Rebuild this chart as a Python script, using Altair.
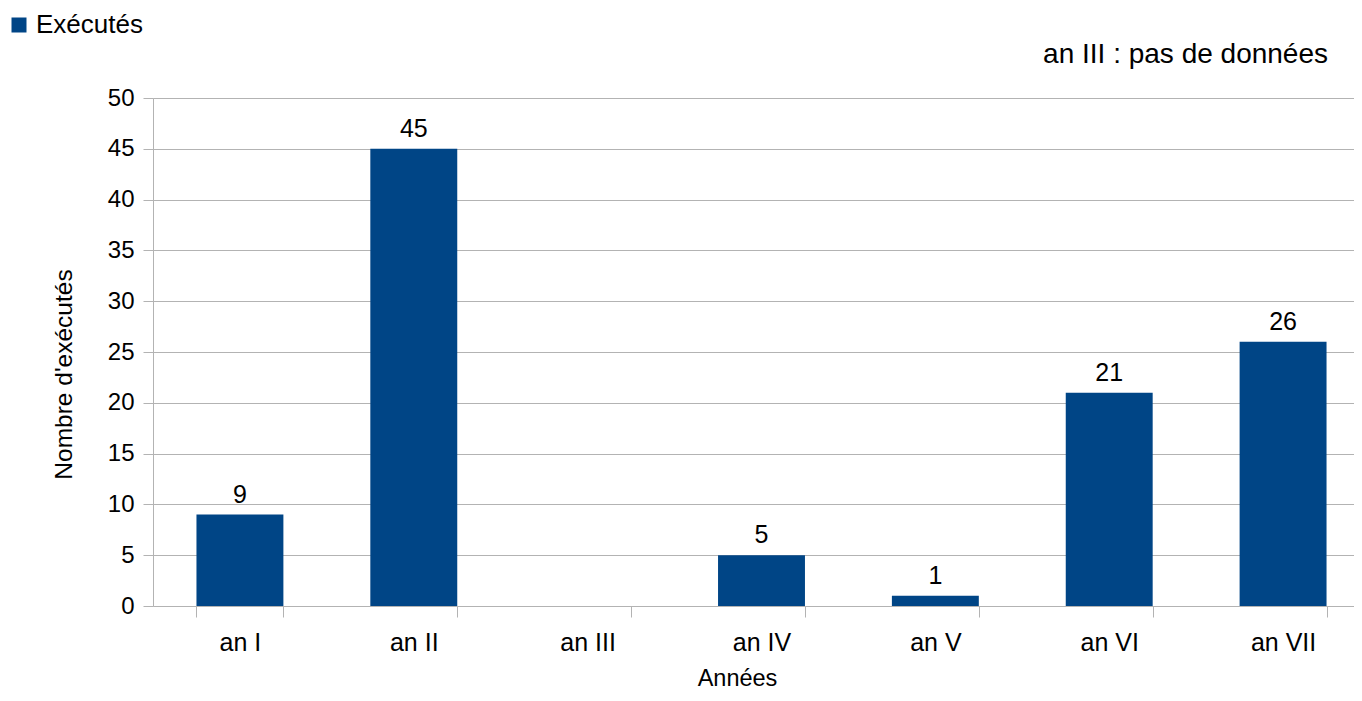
import altair as alt
import pandas as pd

annees = ["an I", "an II", "an III", "an IV", "an V", "an VI", "an VII"]
executes = [9, 45, None, 5, 1, 21, 26]
serie = ["Exécutés"] * len(annees)
note = ["an III : pas de données"]

df = pd.DataFrame({"Années": annees, "Exécutés": executes, "Série": serie})
df_note = pd.DataFrame({"note": note})

FONT = "Liberation Sans"
BLUE = "#004586"
GRID = "#b3b3b3"

x = alt.X(
    "Années:N",
    sort=annees,
    scale=alt.Scale(paddingInner=0.5, paddingOuter=0.25),
    axis=alt.Axis(
        title="Années",
        labelAngle=0,
        labelFontSize=25,
        labelFont=FONT,
        labelColor="black",
        labelPadding=13,
        titleFontSize=23.5,
        titleFont=FONT,
        titleFontWeight="normal",
        titleColor="black",
        titleAlign="center",
        titleBaseline="alphabetic",
        titleX=584,
        titleY=79,
        tickBand="extent",
        tickSize=11,
        tickColor=GRID,
        domain=False,
        grid=False,
    ),
)

y = alt.Y(
    "Exécutés:Q",
    scale=alt.Scale(domain=[0, 50]),
    axis=alt.Axis(
        title="Nombre d'exécutés",
        values=list(range(0, 51, 5)),
        labelFontSize=24,
        labelFont=FONT,
        labelColor="black",
        labelPadding=9,
        titleFontSize=24.5,
        titleFont=FONT,
        titleFontWeight="normal",
        titleColor="black",
        titleAlign="center",
        titleY=276,
        titlePadding=31,
        tickSize=10,
        tickColor=GRID,
        domainColor=GRID,
        gridColor=GRID,
        grid=True,
    ),
)

bars = alt.Chart(df).mark_bar(color=BLUE).encode(
    x=x,
    y=y,
    color=alt.Color(
        "Série:N",
        scale=alt.Scale(range=[BLUE]),
        legend=alt.Legend(
            title=None,
            orient="none",
            legendX=-147,
            legendY=-86,
            symbolType="square",
            symbolSize=225,
            symbolStrokeWidth=0,
            labelFontSize=26,
            labelFont=FONT,
            labelColor="black",
            labelOffset=4,
            padding=0,
        ),
    ),
)

labels = alt.Chart(df).transform_filter(
    "isValid(datum['Exécutés'])"
).mark_text(
    fontSize=25, font=FONT, color="black", baseline="alphabetic", dy=-12
).encode(
    x=alt.X("Années:N", sort=annees),
    y=alt.Y("Exécutés:Q"),
    text=alt.Text("Exécutés:Q"),
)

annotation = alt.Chart(df_note).mark_text(
    fontSize=28, font=FONT, color="black", align="right", baseline="alphabetic"
).encode(
    x=alt.value(1175),
    y=alt.value(-35),
    text="note:N",
)

chart = (
    alt.layer(bars, labels, annotation)
    .properties(
        width=1217,
        height=508,
        autosize=alt.AutoSizeParams(type="none"),
        padding={"left": 145, "top": 90, "right": -16, "bottom": 86},
    )
    .configure_view(stroke=None)
    .configure(background="white")
)

chart.save("out.html", embed_options={"renderer": "svg", "actions": False})
